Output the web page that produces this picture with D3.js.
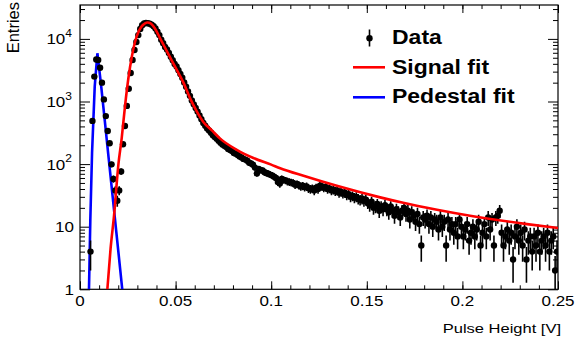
<!DOCTYPE html>
<html>
<head>
<meta charset="utf-8">
<script src="https://cdn.jsdelivr.net/npm/d3@7"></script>
<style>
    body { margin: 0; background: #fff; }
    svg { display: block; font-family: "Liberation Sans", Arial, Helvetica, sans-serif; }
</style>
</head>
<body>
<svg id="chart" width="575" height="347"></svg>
<script>
'use strict';

//直方图：0 ~ 0.25 V，每个 bin 0.001 V
var binLow = 0.0;
var binWidth = 0.001;
var counts = [
    0, 0, 0, 0, 0, 4, 490, 2500, 4700, 4600,
    3470, 2000, 1080, 585, 337, 215, 99, 58, 38, 26,
    38, 76, 207, 405, 850, 1600, 2850, 4600, 6650, 8900,
    11500, 14400, 16500, 17600, 17900, 17800, 17500, 16900, 15900, 14700,
    13000, 11500, 9700, 8500, 7450, 6800, 5950, 5200, 4550, 3980,
    3620, 3160, 2760, 2400, 2020, 1720, 1450, 1230, 1040, 900,
    790, 690, 600, 520, 455, 410, 370, 345, 318, 290,
    272, 255, 236, 220, 205, 196, 188, 175, 168, 162,
    150, 146, 140, 132, 128, 121, 118, 113, 105, 102,
    98, 88, 71, 84, 80, 79, 74, 72, 70, 68,
    66, 63, 60, 52, 49, 58, 56, 55, 53, 52,
    51, 50, 47, 48, 46, 44, 45, 43, 44, 41,
    40, 41, 38, 42, 40, 45, 44, 42, 43, 40,
    41, 38, 39, 37, 38, 35, 36, 34, 35, 32,
    33, 30, 31, 29, 30, 28, 27, 28, 26, 27,
    24, 22, 25, 20, 21, 23, 18, 21, 19, 22,
    19, 17, 21, 18, 15, 19, 17, 14, 18, 20,
    16, 18, 13, 17, 15, 12, 16, 11, 5, 14,
    13, 15, 11, 14, 10, 13, 12, 9, 14, 10,
    12, 5, 13, 9, 11, 8, 11, 7, 13, 10,
    7, 9, 11, 6, 8, 10, 7, 9, 12, 5,
    8, 11, 7, 14, 9, 13, 5, 14, 15, 18,
    8, 5, 7, 9, 6, 8, 3, 7, 10, 6,
    8, 5, 9, 3, 6, 7, 4, 7, 5, 8,
    4, 6, 7, 5, 8, 4, 6, 7, 2, 4
];

//信号拟合曲线
var signalFitX = [0.0143, 0.0160, 0.0178, 0.0201, 0.0218, 0.0236, 0.0253, 0.0271, 0.0288, 0.0306,
    0.0320, 0.0332, 0.0342, 0.0352, 0.0362, 0.0372, 0.0392, 0.0419, 0.0454, 0.0497,
    0.0541, 0.0576, 0.0610, 0.0645, 0.0690, 0.0733, 0.0820, 0.0907, 0.1000, 0.1047,
    0.1169, 0.1343, 0.1570, 0.1690, 0.1867, 0.2040, 0.2338, 0.2500];
var signalFitY = [1, 4.5, 15, 100, 258, 875, 2350, 5200, 9000, 13000,
    15500, 17000, 17900, 18300, 18100, 17400, 14700, 10200, 6400, 3600,
    2000, 1120, 700, 470, 345, 255, 169, 125, 98, 86,
    65, 45, 29.4, 24.1, 18.7, 15.0, 11.0, 9.55];

//台基拟合曲线
var pedestalFitX = [0.0047, 0.0054, 0.0063, 0.0077, 0.0091, 0.0110, 0.0130, 0.0150, 0.0170, 0.0190, 0.0221];
var pedestalFitY = [1, 12.8, 150, 1730, 5900, 1860, 480, 123, 32, 8.2, 1];

var xTickValues = [0, 0.05, 0.1, 0.15, 0.2, 0.25];
var xTickLabels = ['0', '0.05', '0.1', '0.15', '0.2', '0.25'];
var yTickValues = [1, 10, 100, 1000, 10000];
var yTickBase = ['1', '10', '10', '10', '10'];
var yTickExp = ['', '', '2', '3', '4'];
var legendLabels = ['Data', 'Signal fit', 'Pedestal fit'];

var frame = {left: 80, right: 558, top: 5, bottom: 289.3};

var svg = d3.select('#chart');
var x = d3.scaleLinear().domain([0, 0.25]).range([frame.left, frame.right]);
var y = d3.scaleLog().domain([1, 34800]).range([frame.bottom, frame.top]);

//压扁的文字（原图文字纵向被压缩）
function squashText(g, px, py, str, size, sy, anchor, weight) {
    return g.append('text')
        .attr('transform', 'translate(' + px + ',' + py + ') scale(1,' + sy + ')')
        .attr('text-anchor', anchor)
        .attr('font-size', size)
        .attr('font-weight', weight || 'normal')
        .attr('fill', '#000')
        .text(str);
}

svg.append('rect').attr('width', 575).attr('height', 347).attr('fill', '#fff');

svg.append('clipPath').attr('id', 'plotClip')
    .append('rect')
    .attr('x', frame.left).attr('y', frame.top)
    .attr('width', frame.right - frame.left).attr('height', frame.bottom - frame.top);

//刻度
var xMinor = d3.range(0, 0.2501, 0.01);
var yMinor = [];
yTickValues.concat([100000]).forEach(function (d) {
    for (var k = 2; k <= 9; k++) {
        if (d * k / 10 >= 1 && d * k / 10 <= 34800) yMinor.push(d * k / 10);
    }
});

function drawAxis(axis, tx, ty) {
    var g = svg.append('g').attr('transform', 'translate(' + tx + ',' + ty + ')').call(axis);
    g.select('.domain').remove();
    g.selectAll('line').attr('stroke', '#000').attr('stroke-width', 1);
    return g;
}

drawAxis(d3.axisBottom(x).tickValues(xMinor).tickSize(-4).tickFormat(''), 0, frame.bottom);
drawAxis(d3.axisBottom(x).tickValues(xTickValues).tickSize(-8).tickFormat(''), 0, frame.bottom);
drawAxis(d3.axisTop(x).tickValues(xMinor).tickSize(-4).tickFormat(''), 0, frame.top);
drawAxis(d3.axisTop(x).tickValues(xTickValues).tickSize(-8).tickFormat(''), 0, frame.top);
drawAxis(d3.axisLeft(y).tickValues(yMinor).tickSize(-5).tickFormat(''), frame.left, 0);
drawAxis(d3.axisLeft(y).tickValues(yTickValues).tickSize(-10).tickFormat(''), frame.left, 0);
drawAxis(d3.axisRight(y).tickValues(yMinor).tickSize(-5).tickFormat(''), frame.right, 0);
drawAxis(d3.axisRight(y).tickValues(yTickValues).tickSize(-10).tickFormat(''), frame.right, 0);

svg.append('rect')
    .attr('x', frame.left).attr('y', frame.top)
    .attr('width', frame.right - frame.left).attr('height', frame.bottom - frame.top)
    .attr('fill', 'none').attr('stroke', '#000').attr('stroke-width', 1.2);

//坐标轴文字
var labels = svg.append('g');
xTickValues.forEach(function (v, i) {
    squashText(labels, x(v), 306, xTickLabels[i], 17, 0.9, 'middle');
});
yTickValues.forEach(function (v, i) {
    var t = labels.append('text')
        .attr('transform', 'translate(' + (yTickExp[i] ? 72 : 74) + ',' + (y(v) + 5.5) + ') scale(1,0.9)')
        .attr('text-anchor', 'end')
        .attr('font-size', 17)
        .attr('fill', '#000');
    t.append('tspan').text(yTickBase[i]);
    if (yTickExp[i]) {
        t.append('tspan').attr('font-size', 12).attr('dy', -8).text(yTickExp[i]);
    }
});
squashText(labels, 561, 333, 'Pulse Height [V]', 16.5, 0.8, 'end');
labels.append('text')
    .attr('transform', 'translate(19,2) rotate(-90)')
    .attr('text-anchor', 'end')
    .attr('font-size', 16.5)
    .attr('fill', '#000')
    .text('Entries');

//拟合曲线
var plot = svg.append('g').attr('clip-path', 'url(#plotClip)');

var fitLine = d3.line()
    .x(function (d) { return x(d[0]); })
    .y(function (d) { return y(d[1]); });

plot.append('path')
    .datum(pedestalFitX.map(function (v, i) { return [v, pedestalFitY[i]]; }))
    .attr('d', fitLine.curve(d3.curveLinear))
    .attr('fill', 'none').attr('stroke', '#0000ff').attr('stroke-width', 2.6);

//数据点
var points = [];
counts.forEach(function (c, i) {
    if (c > 0) points.push({x: binLow + binWidth * (i + 0.5), n: c});
});

plot.selectAll('line.err').data(points).enter().append('line')
    .attr('class', 'err')
    .attr('x1', function (d) { return x(d.x); })
    .attr('x2', function (d) { return x(d.x); })
    .attr('y1', function (d) { return y(d.n + Math.sqrt(d.n)); })
    .attr('y2', function (d) {
        var lo = d.n - Math.sqrt(d.n);
        return lo > 0.01 ? y(lo) : frame.bottom + 5;
    })
    .attr('stroke', '#000').attr('stroke-width', 1.6);

plot.selectAll('circle.pt').data(points).enter().append('circle')
    .attr('class', 'pt')
    .attr('cx', function (d) { return x(d.x); })
    .attr('cy', function (d) { return y(d.n); })
    .attr('r', 3.2)
    .attr('fill', '#000');

plot.append('path')
    .datum(signalFitX.map(function (v, i) { return [v, signalFitY[i]]; }))
    .attr('d', fitLine.curve(d3.curveMonotoneX))
    .attr('fill', 'none').attr('stroke', '#ff0000').attr('stroke-width', 2.6);

//图例
var legend = svg.append('g');
legend.append('line').attr('x1', 369.5).attr('x2', 369.5).attr('y1', 29.5).attr('y2', 46.5)
    .attr('stroke', '#000').attr('stroke-width', 1.6);
legend.append('circle').attr('cx', 369.5).attr('cy', 38.3).attr('r', 3.2).attr('fill', '#000');
legend.append('line').attr('x1', 353).attr('x2', 385).attr('y1', 67.3).attr('y2', 67.3)
    .attr('stroke', '#ff0000').attr('stroke-width', 2.6);
legend.append('line').attr('x1', 353).attr('x2', 385).attr('y1', 97.3).attr('y2', 97.3)
    .attr('stroke', '#0000ff').attr('stroke-width', 2.6);
legendLabels.forEach(function (s, i) {
    squashText(legend, 392, 44 + i * 29.5, s, 23, 0.86, 'start', 'bold');
});
</script>
</body>
</html>
